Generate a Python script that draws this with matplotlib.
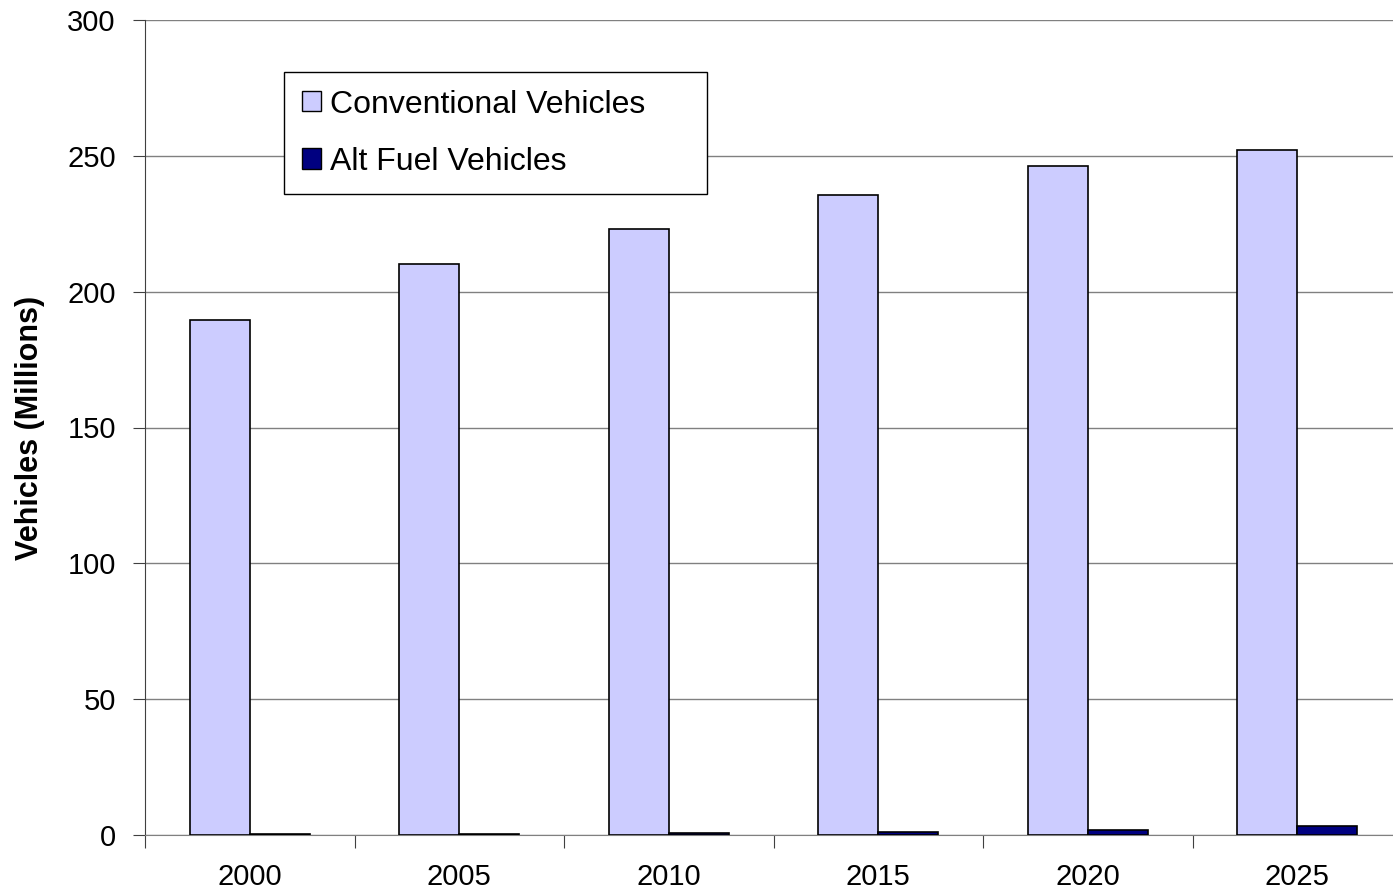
import numpy as np
import matplotlib.pyplot as plt
from matplotlib.patches import Patch

plt.rcParams['font.family'] = ['Liberation Sans', 'DejaVu Sans']

years = ['2000', '2005', '2010', '2015', '2020', '2025']
conventional = [189.5, 210.2, 223.0, 235.6, 246.3, 252.2]
alt_fuel = [0.4, 0.5, 0.8, 1.2, 2.0, 3.2]

fig = plt.figure(figsize=(13.93, 8.89), dpi=100)
ax = fig.add_axes([145 / 1393, 54 / 889, 1257 / 1393, 815 / 889])

x = np.arange(len(years))
w = 0.286
ax.bar(x - w / 2, conventional, w, color='#ccccff', edgecolor='black', linewidth=1.2, zorder=3)
ax.bar(x + w / 2, alt_fuel, w, color='#000080', edgecolor='black', linewidth=1.2, zorder=3)

ax.set_xlim(-0.5, 5.5)
ax.set_ylim(0, 300)
ax.set_yticks(range(0, 301, 50))
ax.yaxis.grid(True, color='#808080', linewidth=1, zorder=0)

# ticks at category boundaries, labels at centres
ax.set_xticks(np.arange(-0.5, 5.6, 1))
ax.set_xticklabels([])
ax.set_xticks(x, minor=True)
ax.set_xticklabels(years, minor=True)
ax.tick_params(axis='x', which='major', length=9, direction='out', color='#404040')
ax.tick_params(axis='x', which='minor', length=0, pad=20, labelsize=21)
ax.tick_params(axis='y', length=9, direction='out', pad=12, labelsize=21, color='#404040')

for s in ['top', 'right']:
    ax.spines[s].set_visible(False)
ax.spines['left'].set_color('#404040')
ax.spines['bottom'].set_color('#808080')

ax.set_ylabel('Vehicles (Millions)', fontsize=22, fontweight='bold', labelpad=16)

handles = [Patch(facecolor='#ccccff', edgecolor='black'),
           Patch(facecolor='#000080', edgecolor='black')]
leg = fig.legend(handles, ['Conventional Vehicles', 'Alt Fuel Vehicles'],
                 loc='upper left',
                 bbox_to_anchor=(284 / 1393, 1 - 196 / 889, 423 / 1393, 124 / 889),
                 mode='expand', fontsize=23, frameon=True, fancybox=False,
                 framealpha=1, edgecolor='black', handlelength=0.6,
                 handleheight=0.6, handletextpad=0.3, labelspacing=0.85,
                 borderpad=0.55, borderaxespad=0)
leg.get_frame().set_linewidth(1)

fig.savefig('out.png', dpi=100)
